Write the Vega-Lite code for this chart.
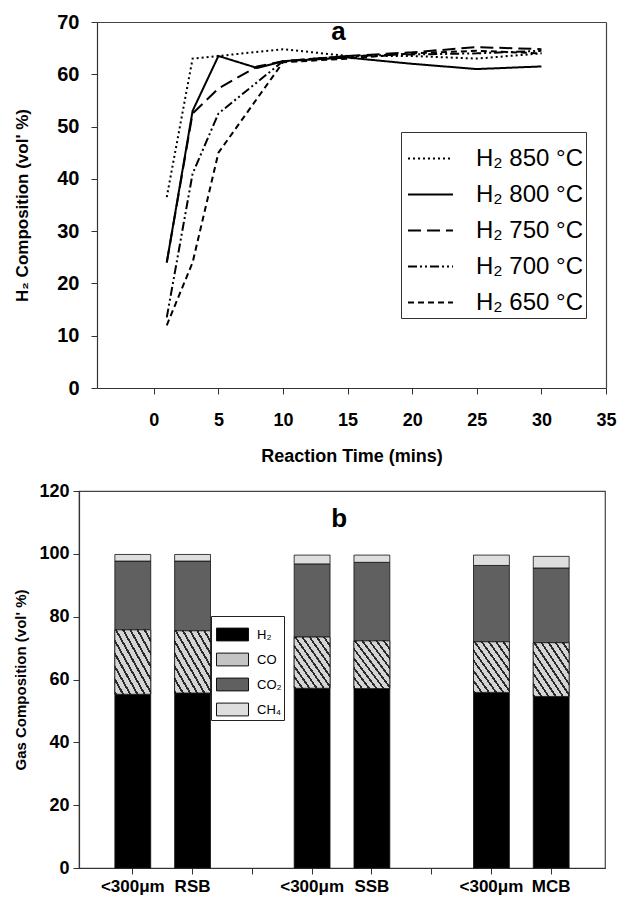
{
  "$schema": "https://vega.github.io/schema/vega-lite/v6.json",
  "padding": {"left": 13, "top": 12, "right": 10, "bottom": 0},
  "spacing": 16,
  "config": {
    "font": "Liberation Sans",
    "view": {"stroke": "#444", "strokeWidth": 1.2},
    "axis": {"grid": false, "domainColor": "#333", "tickColor": "#333", "domainWidth": 1.2, "labelColor": "black", "titleColor": "black", "labelFont": "Liberation Sans", "titleFont": "Liberation Sans"}
  },
  "vconcat": [
    {
      "width": 527,
      "height": 366,
      "view": {"stroke": null},
      "layer": [
        {
          "data": {"name": "lines"},
          "mark": {"type": "line", "color": "black", "strokeWidth": 2},
          "encoding": {
            "x": {"field": "t", "type": "quantitative",
              "scale": {"domain": [-4.4, 35], "nice": false, "zero": false, "range": [18, 527]},
              "axis": {"values": [0, 5, 10, 15, 20, 25, 30, 35], "title": "Reaction Time (mins)", "titleFontSize": 18, "titleFontWeight": "bold", "labelFontSize": 18, "labelFontWeight": "bold", "tickSize": 6, "labelPadding": 17, "titlePadding": 18, "labelFlush": false,
                "grid": true, "gridColor": "#444", "gridWidth": 1.2, "gridOpacity": {"condition": {"test": "datum.value === 35", "value": 1}, "value": 0}}},
            "y": {"field": "h2", "type": "quantitative",
              "scale": {"domain": [0, 70], "nice": false},
              "axis": {"offset": -18, "values": [0, 10, 20, 30, 40, 50, 60, 70], "title": "H₂ Composition (vol' %)", "titleFontSize": 17, "titleFontWeight": "bold", "labelFontSize": 20, "labelFontWeight": "bold", "tickSize": 6, "labelPadding": 12, "titlePadding": 25,
                "grid": true, "gridColor": "#444", "gridWidth": 1.2, "gridOpacity": {"condition": {"test": "datum.value === 70", "value": 1}, "value": 0}}},
            "strokeDash": {"field": "series", "type": "nominal",
              "scale": {"domain": ["H₂ 850 °C", "H₂ 800 °C", "H₂ 750 °C", "H₂ 700 °C", "H₂ 650 °C"],
                        "range": [[2, 3], [1, 0], [13, 6], [9, 3, 2, 3, 2, 3], [6, 4]]},
              "legend": {"orient": "none", "legendX": 322, "legendY": 110, "title": null,
                "symbolType": "stroke", "symbolSize": 2025, "symbolStrokeWidth": 2, "symbolStrokeColor": "black", "symbolOffset": 3,
                "labelFontSize": 24, "labelColor": "black", "labelOffset": 22, "padding": 3, "rowPadding": -8.5,
                "strokeColor": "#333", "fillColor": "white"}}
          }
        },
        {
          "data": {"values": [{"lab": "a"}]},
          "mark": {"type": "text", "fontSize": 26, "fontWeight": "bold", "baseline": "alphabetic", "align": "center", "color": "black"},
          "encoding": {
            "x": {"datum": 14.3, "type": "quantitative"},
            "y": {"datum": 66.5, "type": "quantitative"},
            "text": {"field": "lab"}
          }
        }
      ]
    },
    {
      "width": 526,
      "height": 377,
      "layer": [
        {
          "data": {"name": "gas"},
          "transform": [
            {"stack": "value", "groupby": ["bar"], "sort": [{"field": "i", "order": "ascending"}], "as": ["v0", "v1"]}
          ],
          "mark": {"type": "bar", "stroke": "#111", "strokeWidth": 0.8},
          "encoding": {
            "x": {"field": "bar", "type": "nominal",
              "scale": {"domain": ["RSB lt", "RSB", "gap1", "SSB lt", "SSB", "gap2", "MCB lt", "MCB"], "paddingInner": 0.4, "paddingOuter": 0.6},
              "axis": {"title": null, "labelAngle": 0, "labelFontSize": 17, "labelFontWeight": "bold", "tickSize": 6, "labelPadding": 4,
                "labelExpr": "indexof(datum.value,'lt')>=0 ? '<300μm' : (indexof(datum.value,'gap')>=0 ? '' : datum.value)"}},
            "y": {"field": "v0", "type": "quantitative",
              "scale": {"domain": [0, 120], "nice": false},
              "axis": {"values": [0, 20, 40, 60, 80, 100, 120], "title": "Gas Composition (vol' %)", "titleFontSize": 15, "titleFontWeight": "bold", "labelFontSize": 18, "labelFontWeight": "bold", "tickSize": 6, "labelPadding": 4, "titlePadding": 10}},
            "y2": {"field": "v1"},
            "color": {"field": "gas", "type": "nominal",
              "scale": {"domain": ["H₂", "CO", "CO₂", "CH₄"], "range": ["#000000", "#c4c4c4", "#606060", "#dedede"]},
              "legend": {"orient": "none", "legendX": 132, "legendY": 594, "title": null,
                "symbolType": "M-1,-0.4H1V0.4H-1Z", "symbolSize": 1024, "symbolStrokeColor": "#111", "symbolStrokeWidth": 1, "symbolOpacity": 1, "symbolOffset": 3,
                "labelFontSize": 13, "labelColor": "black", "labelOffset": 8, "padding": 2, "rowPadding": -10,
                "strokeColor": "#222", "fillColor": "white"}}
          }
        },
        {
          "data": {"name": "gas"},
          "transform": [
            {"stack": "value", "groupby": ["bar"], "sort": [{"field": "i", "order": "ascending"}], "as": ["v0", "v1"]},
            {"filter": "datum.gas === 'CO'"}
          ],
          "mark": {"type": "bar", "stroke": "#111", "strokeWidth": 0.8,
            "fill": {"gradient": "linear", "x1": 1, "y1": 0, "x2": 0, "y2": 1, "stops": [
              {"offset": 0, "color": "#d4d4d4"}, {"offset": 0.07, "color": "#d4d4d4"}, {"offset": 0.07, "color": "#2a2a2a"}, {"offset": 0.1, "color": "#2a2a2a"},
              {"offset": 0.1, "color": "#d4d4d4"}, {"offset": 0.17, "color": "#d4d4d4"}, {"offset": 0.17, "color": "#2a2a2a"}, {"offset": 0.2, "color": "#2a2a2a"},
              {"offset": 0.2, "color": "#d4d4d4"}, {"offset": 0.27, "color": "#d4d4d4"}, {"offset": 0.27, "color": "#2a2a2a"}, {"offset": 0.3, "color": "#2a2a2a"},
              {"offset": 0.3, "color": "#d4d4d4"}, {"offset": 0.37, "color": "#d4d4d4"}, {"offset": 0.37, "color": "#2a2a2a"}, {"offset": 0.4, "color": "#2a2a2a"},
              {"offset": 0.4, "color": "#d4d4d4"}, {"offset": 0.47, "color": "#d4d4d4"}, {"offset": 0.47, "color": "#2a2a2a"}, {"offset": 0.5, "color": "#2a2a2a"},
              {"offset": 0.5, "color": "#d4d4d4"}, {"offset": 0.57, "color": "#d4d4d4"}, {"offset": 0.57, "color": "#2a2a2a"}, {"offset": 0.6, "color": "#2a2a2a"},
              {"offset": 0.6, "color": "#d4d4d4"}, {"offset": 0.67, "color": "#d4d4d4"}, {"offset": 0.67, "color": "#2a2a2a"}, {"offset": 0.7, "color": "#2a2a2a"},
              {"offset": 0.7, "color": "#d4d4d4"}, {"offset": 0.77, "color": "#d4d4d4"}, {"offset": 0.77, "color": "#2a2a2a"}, {"offset": 0.8, "color": "#2a2a2a"},
              {"offset": 0.8, "color": "#d4d4d4"}, {"offset": 0.87, "color": "#d4d4d4"}, {"offset": 0.87, "color": "#2a2a2a"}, {"offset": 0.9, "color": "#2a2a2a"},
              {"offset": 0.9, "color": "#d4d4d4"}, {"offset": 0.97, "color": "#d4d4d4"}, {"offset": 0.97, "color": "#2a2a2a"}, {"offset": 1, "color": "#2a2a2a"}
            ]}},
          "encoding": {
            "x": {"field": "bar", "type": "nominal"},
            "y": {"field": "v0", "type": "quantitative"},
            "y2": {"field": "v1"}
          }
        },
        {
          "data": {"values": [{"lab": "b"}]},
          "mark": {"type": "text", "fontSize": 26, "fontWeight": "bold", "baseline": "alphabetic", "align": "center", "color": "black", "dx": 27},
          "encoding": {
            "x": {"datum": "SSB lt", "type": "nominal"},
            "y": {"datum": 108.5, "type": "quantitative"},
            "text": {"field": "lab"}
          }
        }
      ]
    }
  ],
  "datasets": {
    "lines": [
      {"t": 1, "h2": 36.5, "series": "H₂ 850 °C"},
      {"t": 3, "h2": 63.0, "series": "H₂ 850 °C"},
      {"t": 5, "h2": 63.5, "series": "H₂ 850 °C"},
      {"t": 10, "h2": 64.8, "series": "H₂ 850 °C"},
      {"t": 15, "h2": 63.5, "series": "H₂ 850 °C"},
      {"t": 20, "h2": 63.5, "series": "H₂ 850 °C"},
      {"t": 25, "h2": 63.0, "series": "H₂ 850 °C"},
      {"t": 30, "h2": 64.0, "series": "H₂ 850 °C"},
      {"t": 1, "h2": 24.0, "series": "H₂ 800 °C"},
      {"t": 3, "h2": 53.0, "series": "H₂ 800 °C"},
      {"t": 5, "h2": 63.5, "series": "H₂ 800 °C"},
      {"t": 8, "h2": 61.2, "series": "H₂ 800 °C"},
      {"t": 10, "h2": 62.5, "series": "H₂ 800 °C"},
      {"t": 15, "h2": 63.2, "series": "H₂ 800 °C"},
      {"t": 20, "h2": 62.0, "series": "H₂ 800 °C"},
      {"t": 25, "h2": 61.0, "series": "H₂ 800 °C"},
      {"t": 30, "h2": 61.5, "series": "H₂ 800 °C"},
      {"t": 1, "h2": 24.0, "series": "H₂ 750 °C"},
      {"t": 3, "h2": 52.5, "series": "H₂ 750 °C"},
      {"t": 5, "h2": 57.3, "series": "H₂ 750 °C"},
      {"t": 8, "h2": 61.5, "series": "H₂ 750 °C"},
      {"t": 10, "h2": 62.5, "series": "H₂ 750 °C"},
      {"t": 15, "h2": 63.5, "series": "H₂ 750 °C"},
      {"t": 20, "h2": 64.2, "series": "H₂ 750 °C"},
      {"t": 25, "h2": 65.2, "series": "H₂ 750 °C"},
      {"t": 30, "h2": 64.8, "series": "H₂ 750 °C"},
      {"t": 1, "h2": 13.5, "series": "H₂ 700 °C"},
      {"t": 3, "h2": 41.0, "series": "H₂ 700 °C"},
      {"t": 5, "h2": 52.5, "series": "H₂ 700 °C"},
      {"t": 10, "h2": 62.5, "series": "H₂ 700 °C"},
      {"t": 15, "h2": 63.5, "series": "H₂ 700 °C"},
      {"t": 20, "h2": 63.8, "series": "H₂ 700 °C"},
      {"t": 25, "h2": 64.0, "series": "H₂ 700 °C"},
      {"t": 30, "h2": 64.5, "series": "H₂ 700 °C"},
      {"t": 1, "h2": 12.0, "series": "H₂ 650 °C"},
      {"t": 3, "h2": 24.0, "series": "H₂ 650 °C"},
      {"t": 5, "h2": 45.0, "series": "H₂ 650 °C"},
      {"t": 10, "h2": 62.3, "series": "H₂ 650 °C"},
      {"t": 15, "h2": 63.0, "series": "H₂ 650 °C"},
      {"t": 20, "h2": 64.0, "series": "H₂ 650 °C"},
      {"t": 25, "h2": 64.5, "series": "H₂ 650 °C"},
      {"t": 30, "h2": 64.0, "series": "H₂ 650 °C"}
    ],
    "gas": [
      {"bar": "RSB lt", "gas": "H₂", "i": 1, "value": 55.3},
      {"bar": "RSB lt", "gas": "CO", "i": 2, "value": 20.5},
      {"bar": "RSB lt", "gas": "CO₂", "i": 3, "value": 21.9},
      {"bar": "RSB lt", "gas": "CH₄", "i": 4, "value": 2.1},
      {"bar": "RSB", "gas": "H₂", "i": 1, "value": 55.7},
      {"bar": "RSB", "gas": "CO", "i": 2, "value": 19.8},
      {"bar": "RSB", "gas": "CO₂", "i": 3, "value": 22.2},
      {"bar": "RSB", "gas": "CH₄", "i": 4, "value": 2.1},
      {"bar": "SSB lt", "gas": "H₂", "i": 1, "value": 57.2},
      {"bar": "SSB lt", "gas": "CO", "i": 2, "value": 16.3},
      {"bar": "SSB lt", "gas": "CO₂", "i": 3, "value": 23.3},
      {"bar": "SSB lt", "gas": "CH₄", "i": 4, "value": 2.8},
      {"bar": "SSB", "gas": "H₂", "i": 1, "value": 57.1},
      {"bar": "SSB", "gas": "CO", "i": 2, "value": 15.2},
      {"bar": "SSB", "gas": "CO₂", "i": 3, "value": 25.0},
      {"bar": "SSB", "gas": "CH₄", "i": 4, "value": 2.3},
      {"bar": "MCB lt", "gas": "H₂", "i": 1, "value": 55.9},
      {"bar": "MCB lt", "gas": "CO", "i": 2, "value": 16.1},
      {"bar": "MCB lt", "gas": "CO₂", "i": 3, "value": 24.3},
      {"bar": "MCB lt", "gas": "CH₄", "i": 4, "value": 3.3},
      {"bar": "MCB", "gas": "H₂", "i": 1, "value": 54.6},
      {"bar": "MCB", "gas": "CO", "i": 2, "value": 17.1},
      {"bar": "MCB", "gas": "CO₂", "i": 3, "value": 23.8},
      {"bar": "MCB", "gas": "CH₄", "i": 4, "value": 3.7}
    ]
  }
}
